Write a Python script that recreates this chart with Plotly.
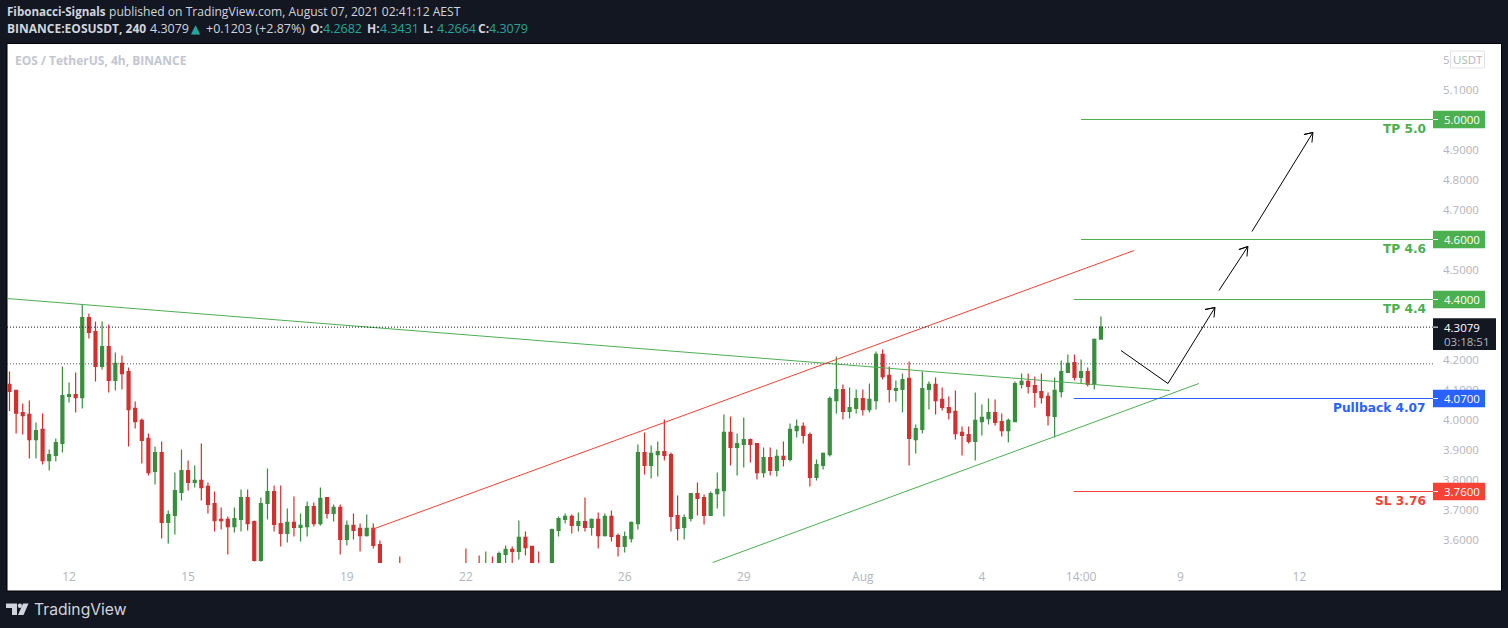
import datetime as dt
import plotly.graph_objects as go

W, H = 1508, 628
L, R, T, B = 7, 1433, 44, 563
BG = "#131722"
UP, DOWN = "#388e3c", "#d32f2f"
GREEN, BLUE, RED = "#4caf50", "#2962ff", "#f44336"
GREY = "#b2b5be"

START = dt.datetime(2021, 7, 10, 12)

opens = [4.117,4.097,4.023,4.017,3.933,3.967,3.863,3.88,3.92,4.077,4.083,4.073,4.34,4.293,4.177,4.243,4.13,4.187,4.16,4.037,
 3.997,3.937,3.827,3.89,3.657,3.68,3.757,3.83,3.79,3.797,3.777,3.72,3.667,3.667,3.643,3.667,3.74,3.66,3.53,3.72,
 3.76,3.653,3.62,3.657,3.64,3.643,3.71,3.653,3.74,3.687,3.707,3.60,3.647,3.637,3.613,3.637,3.583,3.50,3.47,3.50,
 3.46,3.44,3.42,3.40,3.43,3.46,3.48,3.47,3.49,3.50,3.49,3.50,3.48,3.51,3.49,3.55,3.567,3.56,3.607,3.577,
 3.51,3.49,3.50,3.63,3.667,3.677,3.647,3.66,3.64,3.667,3.613,3.677,3.613,3.577,3.603,3.653,3.89,3.847,3.883,3.893,
 3.883,3.68,3.64,3.67,3.753,3.74,3.68,3.753,3.763,3.957,3.907,3.917,3.933,3.92,3.823,3.873,3.83,3.877,3.867,3.963,
 3.977,3.95,3.807,3.847,3.883,4.063,4.10,4.027,4.037,4.07,4.033,4.063,4.217,4.147,4.097,4.10,4.137,3.933,3.967,4.10,
 4.117,4.067,4.04,4.027,3.957,3.95,3.927,3.993,4.003,4.023,3.993,3.963,3.993,4.117,4.127,4.113,4.093,4.077,4.01,4.093,
 4.157,4.19,4.14,4.16,4.117,4.2682]
highs = [4.16,4.097,4.053,4.063,3.99,4.02,3.90,3.937,4.177,4.123,4.157,4.383,4.353,4.327,4.327,4.317,4.223,4.213,4.173,4.06,
 4.003,3.953,3.91,3.927,3.697,3.823,3.90,3.863,3.847,3.92,3.79,3.76,3.707,3.677,3.707,3.767,3.767,3.663,3.74,3.837,
 3.78,3.78,3.703,3.743,3.687,3.727,3.723,3.773,3.74,3.717,3.717,3.663,3.687,3.653,3.683,3.653,3.597,3.51,3.50,3.543,
 3.49,3.47,3.46,3.45,3.48,3.50,3.51,3.50,3.52,3.57,3.52,3.547,3.56,3.543,3.56,3.58,3.577,3.663,3.627,3.577,
 3.56,3.52,3.637,3.677,3.687,3.683,3.69,3.74,3.67,3.69,3.687,3.697,3.62,3.627,3.66,3.917,3.957,3.913,3.927,4.0,
 3.89,3.747,3.683,3.753,3.79,3.75,3.76,3.823,4.017,4.01,3.953,4.007,3.937,3.92,3.907,3.907,3.90,3.927,3.987,4.0,
 3.99,3.957,3.867,3.89,4.077,4.21,4.117,4.107,4.10,4.10,4.12,4.227,4.233,4.177,4.13,4.153,4.193,3.983,4.16,4.127,
 4.14,4.107,4.077,4.097,3.977,3.977,4.09,4.05,4.07,4.067,4.02,4.003,4.127,4.153,4.153,4.143,4.153,4.09,4.14,4.197,
 4.217,4.217,4.20,4.173,4.27,4.3431]
lows = [4.028,3.953,3.95,3.87,3.87,3.85,3.83,3.86,3.89,4.057,4.023,4.037,4.27,4.127,4.167,4.09,4.097,4.10,3.91,3.97,
 3.853,3.813,3.783,3.603,3.587,3.617,3.73,3.763,3.773,3.73,3.687,3.627,3.633,3.55,3.623,3.627,3.63,3.527,3.527,3.667,
 3.627,3.577,3.59,3.61,3.593,3.61,3.643,3.647,3.67,3.66,3.55,3.58,3.60,3.56,3.61,3.57,3.48,3.44,3.42,3.43,
 3.41,3.39,3.38,3.37,3.41,3.43,3.45,3.44,3.46,3.47,3.46,3.47,3.46,3.48,3.47,3.52,3.52,3.533,3.547,3.47,
 3.47,3.46,3.48,3.61,3.653,3.62,3.627,3.627,3.613,3.57,3.61,3.593,3.543,3.557,3.59,3.633,3.817,3.803,3.81,3.863,
 3.627,3.597,3.60,3.66,3.68,3.65,3.68,3.703,3.677,3.847,3.813,3.84,3.857,3.80,3.807,3.813,3.81,3.843,3.86,3.94,
 3.92,3.777,3.797,3.833,3.877,4.02,4.0,4.003,4.02,4.013,4.023,4.033,4.133,4.057,4.06,4.023,3.847,3.887,3.953,4.033,
 4.017,4.03,4.0,3.933,3.88,3.92,3.863,3.947,3.983,3.98,3.943,3.923,3.993,4.103,4.087,4.04,4.053,3.98,3.94,4.073,
 4.157,4.13,4.12,4.11,4.10,4.2664]
closes = [4.094,4.021,4.013,3.933,3.963,3.863,3.883,3.923,4.08,4.083,4.073,4.34,4.29,4.177,4.243,4.13,4.187,4.153,4.033,3.993,
 3.93,3.823,3.89,3.657,3.683,3.763,3.83,3.79,3.797,3.773,3.717,3.663,3.663,3.643,3.67,3.74,3.653,3.53,3.72,3.76,
 3.65,3.62,3.657,3.64,3.647,3.71,3.653,3.737,3.687,3.707,3.60,3.647,3.63,3.613,3.637,3.58,3.50,3.47,3.45,3.46,
 3.44,3.42,3.40,3.43,3.46,3.48,3.47,3.49,3.48,3.49,3.50,3.48,3.51,3.49,3.553,3.567,3.56,3.607,3.573,3.50,
 3.49,3.50,3.633,3.67,3.677,3.647,3.66,3.64,3.667,3.613,3.677,3.61,3.577,3.61,3.657,3.89,3.847,3.887,3.893,3.88,
 3.677,3.637,3.673,3.753,3.737,3.68,3.753,3.767,3.957,3.907,3.92,3.933,3.917,3.823,3.873,3.83,3.877,3.867,3.967,3.977,
 3.947,3.807,3.85,3.887,4.07,4.10,4.027,4.04,4.07,4.033,4.067,4.217,4.143,4.10,4.103,4.133,3.937,3.97,4.103,4.117,
 4.063,4.04,4.023,3.953,3.947,3.927,3.997,4.007,4.023,3.99,3.963,3.997,4.12,4.127,4.11,4.09,4.073,4.013,4.097,4.16,
 4.187,4.14,4.16,4.117,4.267,4.3079]

tick_dates = ["2021-07-12","2021-07-15","2021-07-19","2021-07-22","2021-07-26","2021-07-29","2021-08-01","2021-08-04","2021-08-06 12:00","2021-08-09","2021-08-12"]
tick_labels = ["12","15","19","22","26","29","Aug","4","14:00","9","12"]
price_ticks = [3.6,3.7,3.8,3.9,4.0,4.1,4.2,4.3,4.4,4.5,4.6,4.7,4.8,4.9,5.0,5.1,5.2]

# drawings, as (bar number, price)
channel_bar, channel_price = [54.8, 170.0], [3.6333, 4.5633]
falling_bar, falling_price = [-0.38, 175.4], [4.4033, 4.0967]
rising_bar, rising_price = [106.3, 179.8], [3.5233, 4.12]
arrow1_bar, arrow1_price = [168.03,175.13,182.24,180.73,182.24,182.09], [4.23,4.12,4.3733,4.3667,4.3733,4.34]
arrow2_bar, arrow2_price = [182.84,187.22,185.86,187.22,187.07], [4.43,4.5767,4.5667,4.5767,4.5433]
arrow3_bar, arrow3_price = [187.83,197.05,195.69,197.05,196.9], [4.6267,4.9567,4.95,4.9567,4.9233]
level_prices = [5.0, 4.6, 4.4, 4.07, 3.76]
level_starts = [162, 162, 160.9, 160.9, 160.9]
level_names = ["TP 5.0", "TP 4.6", "TP 4.4", "Pullback 4.07", "SL 3.76"]
level_colors = [GREEN, GREEN, GREEN, BLUE, RED]
last_price = 4.3079
prev_close = 4.1856
countdown = "03:18:51"

def bar_time(n):
    return START + dt.timedelta(hours=4 * n)

def bt(ns):
    return [bar_time(n) for n in ns]

times = bt(range(len(opens)))
x_lo, x_hi = bar_time(-0.378), bar_time(215.2)
y_lo, y_hi = 3.5217, 5.2517

def px(x):
    return (x - L) / (R - L)

def py(y):
    return (B - y) / (B - T)

fig = go.Figure()
fig.add_trace(go.Candlestick(
    x=times, open=opens, high=highs, low=lows, close=closes,
    increasing=dict(line=dict(color=UP, width=1.2), fillcolor=UP),
    decreasing=dict(line=dict(color=DOWN, width=1.2), fillcolor=DOWN),
    whiskerwidth=0, hoverinfo="skip", showlegend=False))

def line(xs, ys, color, width=1, dash=None):
    fig.add_trace(go.Scatter(x=xs, y=ys, mode="lines", hoverinfo="skip", showlegend=False,
                             line=dict(color=color, width=width, dash=dash)))

line(bt(falling_bar), falling_price, GREEN)
line(bt(rising_bar), rising_price, GREEN)
line(bt(channel_bar), channel_price, RED)
line([x_lo, x_hi], [last_price]*2, "#131722", 1, "1px,2px")
line([x_lo, x_hi], [prev_close]*2, "#555555", 1, "1px,2px")
for p, s, c in zip(level_prices, level_starts, level_colors):
    line([bar_time(s), x_hi], [p, p], c)
line(bt(arrow1_bar), arrow1_price, "#000000")
line(bt(arrow2_bar), arrow2_price, "#000000")
line(bt(arrow3_bar), arrow3_price, "#000000")

shapes = [
    dict(type="rect", xref="paper", yref="paper", layer="below",
         x0=px(7), x1=px(1501.5), y0=py(591), y1=py(43.5),
         fillcolor="#ffffff", line=dict(color="#000000", width=1)),
    # TradingView mark
    dict(type="path", xref="paper", yref="paper", fillcolor="#d1d4dc", line=dict(width=0),
         path=f"M{px(6)},{py(603.5)}L{px(17)},{py(603.5)}L{px(17)},{py(615)}L{px(12)},{py(615)}L{px(12)},{py(608)}L{px(6)},{py(608)}Z"),
    dict(type="circle", xref="paper", yref="paper", fillcolor="#d1d4dc", line=dict(width=0),
         x0=px(17.8), x1=px(22), y0=py(608), y1=py(603.5)),
    dict(type="path", xref="paper", yref="paper", fillcolor="#d1d4dc", line=dict(width=0),
         path=f"M{px(23)},{py(603.5)}L{px(28.5)},{py(603.5)}L{px(23.5)},{py(615)}L{px(18)},{py(615)}Z"),
    # USDT button
    dict(type="rect", xref="paper", yref="paper", x0=px(1450.5), x1=px(1484.5), y0=py(68), y1=py(51),
         fillcolor="#ffffff", line=dict(color="#e0e3eb", width=1)),
]

def tag(p, color, x1=1485, half=0.029, lo=None):
    lo = p - half if lo is None else lo
    hi = p + half
    shapes.append(dict(type="rect", xref="paper", yref="y", x0=px(R), x1=px(x1), y0=lo, y1=hi,
                       fillcolor=color, line=dict(width=0)))
    shapes.append(dict(type="line", xref="paper", yref="y", x0=px(R), x1=px(R + 5), y0=p, y1=p,
                       line=dict(color="#ffffff", width=1)))

for p, c in zip(level_prices, level_colors):
    tag(p, c)
tag(last_price, BG, x1=1496, half=0.03, lo=last_price - 0.0763)

TV_FONT = "Open Sans"
ann = []

def text(x, y, s, size=12, color=GREY, anchor="left", family=TV_FONT):
    ann.append(dict(xref="paper", yref="paper", x=px(x), y=py(y), text=s, showarrow=False,
                    xanchor=anchor, yanchor="middle", borderpad=0,
                    font=dict(family=family, size=size, color=color)))

def ptext(x, p, s, size=12, color="#ffffff", anchor="left", family=TV_FONT, shift=0):
    ann.append(dict(xref="paper", yref="y", x=px(x), y=p, text=s, showarrow=False,
                    xanchor=anchor, yanchor="middle", yshift=shift, borderpad=0,
                    font=dict(family=family, size=size, color=color)))

teal = "#26a69a"
LIGHT = "#d1d4dc"
text(6, 11, "<b>Fibonacci-Signals</b>", 11.6, LIGHT)
text(108, 11, "published on TradingView.com, August 07, 2021 02:41:12 AEST", 12.1, LIGHT)
text(6, 29, "<b>BINANCE:EOSUSDT, 240</b>", 12, LIGHT)
text(149, 29, "4.3079", 12.5, LIGHT)
text(190, 29, "▲", 12, teal, family="DejaVu Sans")
text(205, 29, "+0.1203 (+2.87%)", 12.5, LIGHT)
for x_key, key, x_val, val in [(309, "O:", 322, "4.2682"), (366, "H:", 379, "4.3431"),
                               (422, "L:", 436, "4.2664"), (477, "C:", 488, "4.3079")]:
    text(x_key, 29, f"<b>{key}</b>", 12, LIGHT)
    text(x_val, 29, val, 12.5, teal)
text(14, 60.5, "<b>EOS / TetherUS, 4h, BINANCE</b>", 12, "#c3c6cf")
text(1467.5, 60, "USDT", 11.5, GREY, "center")
text(33, 609.5, "TradingView", 15.7, LIGHT, family="Inter")

for p, c, n in zip(level_prices, level_colors, level_names):
    ptext(1442.5, p, f"{p:.4f}", 11.5, shift=0)
    ptext(1427, p, f"<b>{n}</b>", 12.2, c, "right", "DejaVu Sans", shift=-9)
ptext(1442.5, last_price, f"{last_price:.4f}", 11.5)
ptext(1442.5, last_price, countdown, 11.5, GREY, shift=-14)

fig.update_layout(
    width=W, height=H, autosize=False,
    margin=dict(l=L, r=W - R, t=T, b=H - B, pad=0),
    paper_bgcolor=BG, plot_bgcolor="#ffffff", boxgap=0.36,
    font=dict(family=TV_FONT, size=12, color=GREY),
    showlegend=False, hovermode=False,
    shapes=shapes, annotations=ann,
    xaxis=dict(type="date", range=[x_lo, x_hi], rangeslider=dict(visible=False), showgrid=False,
               zeroline=False, showline=False, tickmode="array", tickvals=tick_dates, ticktext=tick_labels,
               ticks="", ticklabelstandoff=5, tickfont=dict(size=12, color=GREY), tickangle=0),
    yaxis=dict(side="right", range=[y_lo, y_hi], showgrid=False, zeroline=False, showline=False,
               tickmode="array", tickvals=price_ticks, ticktext=[f"{v:.4f}" for v in price_ticks],
               ticks="", ticklabelstandoff=9, tickfont=dict(size=11.5, color=GREY)),
)

fig.write_html("out.html", config=dict(displayModeBar=False),
               post_script="document.body.style.margin='0';document.body.style.overflow='hidden';")
